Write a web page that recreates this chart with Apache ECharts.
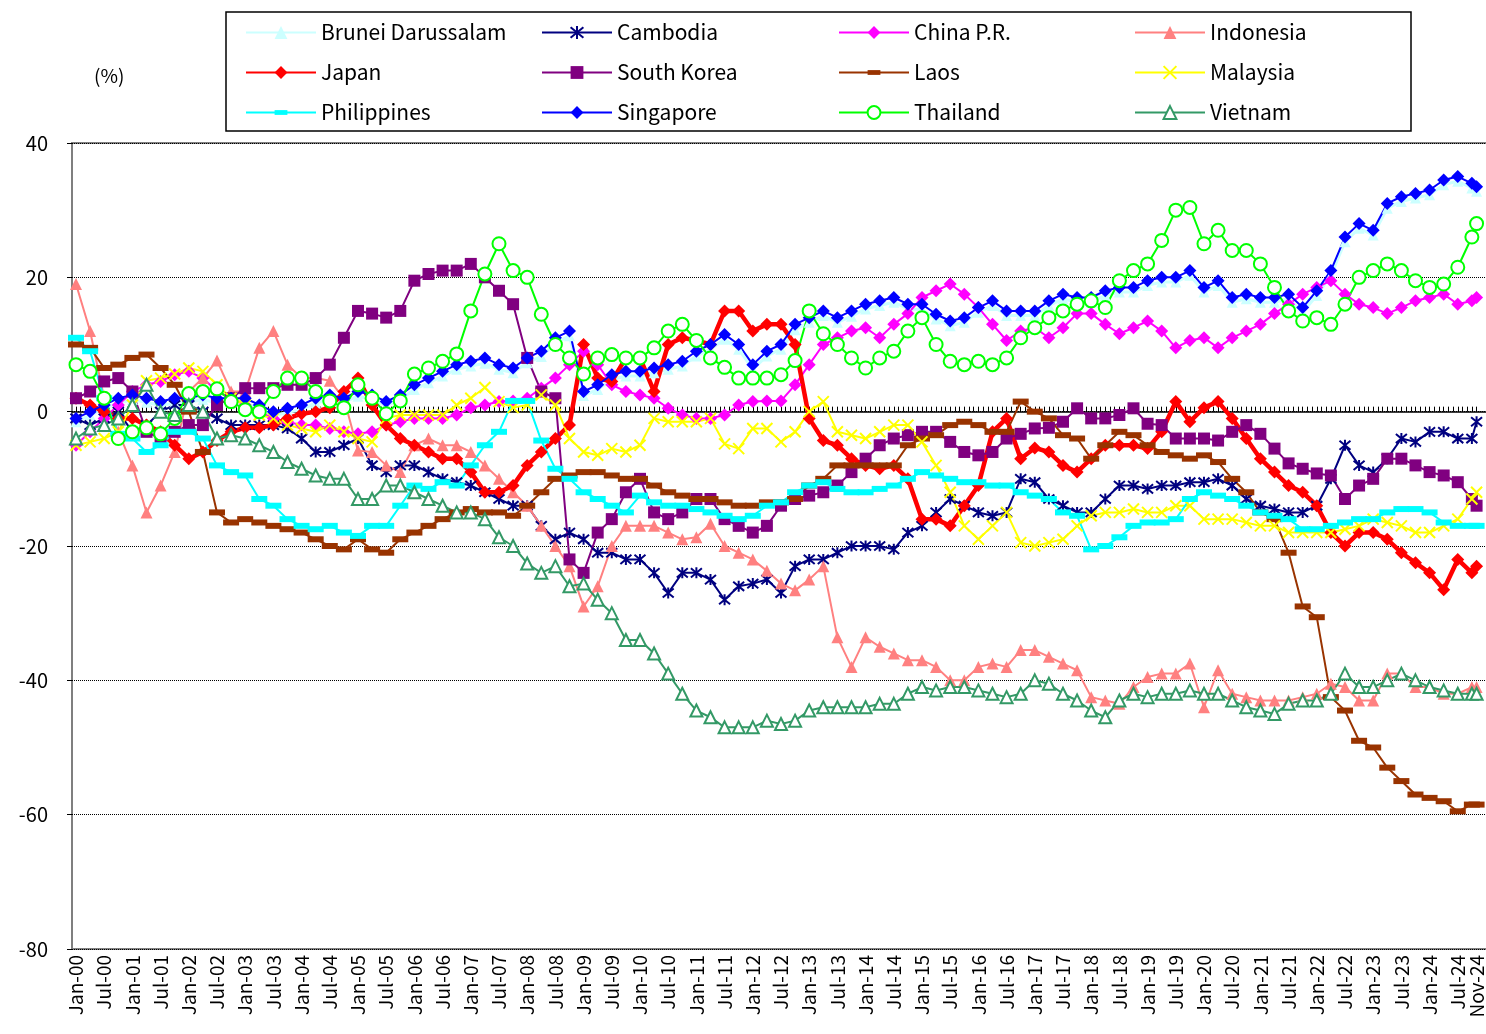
<!DOCTYPE html>
<html>
<head>
<meta charset="utf-8">
<title>Exchange rate change vs Jan-00</title>
<script src="https://cdn.jsdelivr.net/npm/echarts@6/dist/echarts.min.js"></script>
<style>
  html, body { margin: 0; padding: 0; background: #fff; }
  #main { width: 1486px; height: 1034px; }
</style>
</head>
<body>
<div id="main"></div>
<script>
// month labels Jan-00 ... Nov-24
var monthNames = ['Jan','Feb','Mar','Apr','May','Jun','Jul','Aug','Sep','Oct','Nov','Dec'];
var months = [];
for (var yy = 0; yy <= 24; yy++) {
    for (var mm = 0; mm < 12; mm++) {
        if (yy == 24 && mm > 10) break;
        months.push(monthNames[mm] + '-' + (yy < 10 ? '0' : '') + yy);
    }
}
// values are read every quarter (Jan, Apr, Jul, Oct) plus the last month Nov-24
var sampleMonths = [];
for (var q = 0; q < 298; q += 3) sampleMonths.push(q);
sampleMonths.push(298);

var labelMonths = [];
for (var l = 0; l < 298; l += 6) labelMonths.push(l);
var lastMonth = [298];

var tickMonths = [];
for (var t = 0; t < months.length; t++) tickMonths.push(t);

var names = ['Brunei Darussalam', 'Cambodia', 'China P.R.', 'Indonesia',
             'Japan', 'South Korea', 'Laos', 'Malaysia',
             'Philippines', 'Singapore', 'Thailand', 'Vietnam'];

var brunei = [
 -1.5, -0.5, 0.5, 1.3,   1.8, 1.4, 0.9, 1.3,   1.4, 1.8, 1.3, 1.4,   1.3, 0.4, -0.6, -0.1,
 0.3, 1.3, 1.8, 1.4,     2.3, 1.8, 0.9, 1.8,   3.3, 4.3, 5.3, 6.3,   6.8, 7.2, 6.3, 5.8,
 7.3, 8.2, 10.2, 11.3,   2.4, 3.3, 4.8, 5.3,   5.3, 5.8, 6.3, 6.8,   8.3, 9.3, 10.8, 9.3,
 6.3, 8.3, 9.3, 12.2,    13.3, 14.3, 13.3, 14.2, 15.3, 15.8, 16.3, 15.3, 15.2, 13.8, 12.8, 13.3,
 14.8, 15.8, 14.3, 14.3, 14.3, 15.8, 16.8, 16.3, 16.3, 17.3, 17.8, 17.8, 18.8, 19.3, 19.3, 20.3,
 17.8, 18.8, 16.3, 16.8, 16.3, 16.3, 16.8, 14.8, 17.3, 20.3, 25.3, 27.3, 26.3, 30.3, 31.3, 31.8,
 32.3, 33.8, 34.3, 33.3, 32.8];

var cambodia = [
 -1, -2, -1, 0,          -3, -2, 0, 1,         1, 0, -1, -2,         -2, -2, -2, -2.5,
 -4, -6, -6, -5,         -4, -8, -9, -8,       -8, -9, -10, -10.5,   -11, -12, -13, -14,
 -14, -17, -19, -18,     -19, -21, -21, -22,   -22, -24, -27, -24,   -24, -25, -28, -26,
 -25.6, -25, -27, -23,   -22, -22, -21, -20,   -20, -20, -20.5, -18, -17, -15, -13, -14,
 -15, -15.5, -15, -10,   -10.5, -13, -14, -15, -15, -13, -11, -11,   -11.5, -11, -11, -10.5,
 -10.5, -10, -11, -13,   -14, -14.5, -15, -15, -14, -10, -5, -8,     -9, -7, -4, -4.5,
 -3, -3, -4, -4, -1.5];

var china = [
 -5, -3, -1, 1,          3, 4, 4.5, 5.5,       6, 5, 3, 2,           1, 0, -1, -1.5,
 -2, -2, -2.5, -3,       -3.3, -3, -2, -1.5,   -1, -1, -1, -0.5,     0.6, 1, 1.5, 1.6,
 2, 3.5, 5, 7,           9, 7, 4, 3,           2.5, 2, 0.5, -0.5,    -1, -1, -0.5, 1,
 1.5, 1.6, 1.6, 4,       7, 10, 11, 12,        12.5, 11, 13, 14.6,   17, 18, 19, 17.5,
 15.5, 13, 10.6, 12,     12.5, 11, 12.5, 14.6, 14.6, 13, 11.6, 12.5, 13.5, 12, 9.5, 10.6,
 11, 9.5, 11, 12,        13, 14.6, 16, 17.5,   18.5, 19.5, 17.5, 16, 15.5, 14.6, 15.5, 16.5,
 17, 17.5, 16, 16.5, 17];

var indonesia = [
 19, 12, 2, -3,          -8, -15, -11, -6,     3, 5, 7.6, 3,         3, 9.5, 12, 7,
 5, 5, 4.6, 2,           -5.8, -6, -8, -9,     -5, -4, -5, -5,       -6, -8, -10, -12,
 -14, -17, -20, -23,     -29, -26, -20, -17,   -17, -17, -18, -19,   -18.7, -16.7, -20, -21,
 -22, -23.7, -25.6, -26.6, -25, -23, -33.6, -38, -33.6, -35, -36, -37, -37, -38, -40, -40,
 -38, -37.5, -38, -35.5, -35.5, -36.5, -37.5, -38.5, -42.5, -43, -43.5, -41, -39.5, -39, -39, -37.5,
 -44, -38.5, -42, -42.5, -43, -43, -43, -42.5, -42, -40.5, -41, -43,   -43, -39, -39, -41,
 -41, -42, -42, -41, -41];

var japan = [
 2, 1, 0, -1,            -1, -2, -3, -5,       -7, -6, -4.3, -3,     -2.4, -2.4, -2, -1,
 -0.3, 0, 0.6, 3,        5, 1, -2, -4,         -5, -6, -7, -7,       -9, -12, -12, -11,
 -8, -6, -4, -2,         10, 5, 4.5, 8,        8, 3, 10, 11,         10.6, 10, 15, 15,
 12, 13, 13, 10,         -1, -4.3, -5, -7,     -8, -8.5, -8, -10,    -16, -16, -17, -14,
 -11, -3, -1, -7,        -5.4, -6, -8, -9,     -7, -5, -5, -5,       -5.5, -3, 1.5, -1.5,
 0.6, 1.5, -1, -4,       -7, -9, -11, -12,     -14, -18, -20, -18,   -18, -19, -21, -22.5,
 -24, -26.5, -22, -24, -23];

var southKorea = [
 2, 3, 4.5, 5,           3, -3, -4, -3,        -2, -2, 1, 2,         3.5, 3.5, 3.5, 4,
 4, 5, 7, 11,            15, 14.6, 14, 15,     19.5, 20.5, 21, 21,   22, 20, 18, 16,
 8, 3, 2, -22,           -24, -18, -16, -12,   -10, -15, -16, -15,   -13, -13, -16, -17,
 -18, -17, -14, -13,     -12.5, -12, -11, -9,  -7, -5, -4, -3.5,     -3, -3, -4.5, -6,
 -6.5, -6, -4, -3.3,     -2.5, -2.4, -1.5, 0.5, -1, -1, -0.5, 0.5,   -1.8, -2, -4, -4,
 -4, -4.3, -3, -2,       -3.3, -5.5, -7.7, -8.5, -9.2, -9.5, -13, -11, -10, -7, -7, -8,
 -9, -9.5, -10.5, -13, -14];

var laos = [
 10, 9.5, 6.5, 7,        8, 8.5, 6.5, 4,       0, -6, -15, -16.5,    -16, -16.5, -17, -17.5,
 -18, -19, -20, -20.5,   -19, -20.5, -21, -19, -18, -17, -16, -15,   -14.5, -15, -15, -15.5,
 -14, -12, -10, -9.5,    -9, -9, -9.5, -10,    -10, -11, -12, -12.5, -13, -13, -13.5, -14,
 -14, -13.5, -13.5, -13, -11, -10, -8, -8,     -8, -8, -8, -5,       -4, -3.5, -2, -1.5,
 -2, -3, -3, 1.5,        0, -1, -3.5, -4,      -7, -5, -3, -3.5,     -5, -6, -6.5, -7,
 -6.5, -7.5, -10, -12,   -15, -16, -21, -29,   -30.6, -42.5, -44.5, -49, -50, -53, -55, -57,
 -57.5, -58, -59.5, -58.5, -58.5];

var malaysia = [
 -5, -4.5, -4, -3,       1, 4.6, 5, 5.6,       6.5, 6, 4, 2,         1, -0.5, -1, -2,
 -2.5, -3, -2, -3,       -4, -4.5, -1, -0.5,   -0.5, -0.5, -0.5, 1,  2, 3.6, 1.5, 0.6,
 1, 2.5, 1, -4,          -6, -6.5, -5.5, -6,   -5, -1, -1.5, -1.5,   -1.5, -1, -4.8, -5.5,
 -2.5, -2.5, -4.5, -3,   0, 1.5, -3, -3.5,     -4, -3, -2, -2,       -4.5, -8, -12, -17,
 -19, -17, -15, -19.5,   -20, -19.5, -19, -17, -15.5, -15, -15, -14.5, -15, -15, -14, -14,
 -16, -16, -16, -16.5,   -17, -17, -18, -18,   -18, -18, -17.5, -17, -16, -16.5, -17, -18,
 -18, -17, -16, -13, -12];

var philippines = [
 11, 9, 2, -3.3,         -4, -6, -5, -3,       -3, -4, -8, -9,       -9.5, -13, -14, -16,
 -17, -17.5, -17, -18,   -18.5, -17, -17, -14, -11, -11.5, -10.5, -11, -8, -5, -3, 1.6,
 1.6, -4.3, -8.5, -10,   -12, -13, -14, -15,   -12.5, -13.5, -14, -14, -14.5, -15, -15.5, -16,
 -15.5, -14, -13.5, -12, -11, -10.5, -11.5, -12, -12, -11.5, -11, -10, -9, -9.5, -10, -10.5,
 -10.5, -11, -11, -12,   -12.5, -13, -15, -15.5, -20.5, -20, -18.7, -17, -16.5, -16.5, -16, -13,
 -12, -12.5, -13, -14,   -15, -15.5, -16, -17.5, -17.5, -17, -16.5, -16, -16, -15, -14.5, -14.5,
 -15, -16.5, -17, -17, -17];

var singapore = [
 -1, 0, 1, 2,            2.5, 2, 1.5, 2,       2, 2.5, 2, 2,         2, 1, 0, 0.5,
 1, 2, 2.5, 2,           3, 2.5, 1.5, 2.5,     4, 5, 6, 7,           7.5, 8, 7, 6.5,
 8, 9, 11, 12,           3, 4, 5.5, 6,         6, 6.5, 7, 7.5,       9, 10, 11.5, 10,
 7, 9, 10, 13,           14, 15, 14, 15,       16, 16.5, 17, 16,     16, 14.5, 13.5, 14,
 15.5, 16.5, 15, 15,     15, 16.5, 17.5, 17,   17, 18, 18.5, 18.5,   19.5, 20, 20, 21,
 18.5, 19.5, 17, 17.5,   17, 17, 17.5, 15.5,   18, 21, 26, 28,       27, 31, 32, 32.5,
 33, 34.5, 35, 34, 33.5];

var thailand = [
 7, 6, 2, -4,            -3, -2.4, -3.3, -1,   2.7, 3, 3.4, 1.5,     0.3, 0, 3, 5,
 5, 3, 1.6, 0.6,         4, 2, -0.3, 1.6,      5.6, 6.5, 7.5, 8.6,   15, 20.5, 25, 21,
 20, 14.5, 10, 8,        5.6, 8, 8.5, 8,       8, 9.5, 12, 13,       10.6, 8, 6.6, 5,
 5, 5, 5.5, 7.6,         15, 11.6, 10, 8,      6.5, 8, 9, 12,        14, 10, 7.5, 7,
 7.5, 7, 8, 11,          12.5, 14, 15, 16,     16.5, 15.5, 19.5, 21, 22, 25.5, 30, 30.4,
 25, 27, 24, 24,         22, 18.5, 15, 13.5,   14, 13, 16, 20,       21, 22, 21, 19.5,
 18.5, 19, 21.5, 26, 28];

var vietnam = [
 -4, -2.5, -2, -1,       1, 4, 0, -0.5,        1, 0, -4, -3.5,       -4, -5, -6, -7.5,
 -8.5, -9.5, -10, -10,   -13, -13, -11, -11,   -12, -13, -14, -15,   -15, -16, -18.7, -20,
 -22.6, -24, -23, -26,   -25.6, -28, -30, -34, -34, -36, -39, -42,   -44.5, -45.5, -47, -47,
 -47, -46, -46.5, -46,   -44.5, -44, -44, -44, -44, -43.5, -43.5, -42, -41, -41.5, -41, -41,
 -41.5, -42, -42.5, -42, -40, -40.5, -42, -43, -44.5, -45.5, -43, -42, -42.5, -42, -42, -41.5,
 -42, -42, -43, -44,     -44.5, -45, -43.5, -43, -43, -42, -39, -41,  -41, -40, -39, -40,
 -41, -41.5, -42, -42, -42];

var FONT = '"Noto Sans CJK JP", "Liberation Sans", sans-serif';
var asterisk = 'path://M0,0L10,10M10,0L0,10M5,-1L5,11';
var cross = 'path://M0,0L10,10M10,0L0,10';
// a flat dash drawn inside a square box, so it stays flat in the legend too
var dash = 'path://M0,0L0,0M16,16L16,16M0,5L16,5L16,11L0,11Z';

function pairs(values) {
    return sampleMonths.map(function (m, i) { return [m, values[i]]; });
}

function line(name, values, color, symbol, size, opts) {
    opts = opts || {};
    return {
        name: name,
        type: 'line',
        xAxisIndex: 0,
        data: pairs(values),
        symbol: symbol,
        symbolSize: size,
        showAllSymbol: true,
        lineStyle: { color: color, width: opts.width || 2 },
        itemStyle: {
            color: color,
            borderColor: color,
            borderWidth: opts.border || 0
        },
        emphasis: { disabled: true }
    };
}

var series = [
    line(names[0], brunei, '#ccffff', 'triangle', 11, { width: 3 }),
    line(names[1], cambodia, '#000080', asterisk, 11, { border: 2 }),
    line(names[2], china, '#ff00ff', 'diamond', 13),
    line(names[3], indonesia, '#ff8080', 'triangle', 12),
    line(names[4], japan, '#ff0000', 'diamond', 13, { width: 4.5 }),
    line(names[5], southKorea, '#800080', 'rect', 12),
    line(names[6], laos, '#993300', dash, 16),
    line(names[7], malaysia, '#ffff00', cross, 11, { border: 2 }),
    line(names[8], philippines, '#00ffff', dash, 16),
    line(names[9], singapore, '#0000ff', 'diamond', 13),
    line(names[10], thailand, '#00ff00', 'emptyCircle', 13, { border: 2 }),
    line(names[11], vietnam, '#339966', 'emptyTriangle', 12, { border: 1.5 })
];

var colLeft = [245, 541, 838, 1134];
var legends = colLeft.map(function (x, c) {
    return {
        orient: 'vertical',
        left: x,
        top: 22,
        padding: 0,
        itemWidth: 70,
        itemHeight: 16,
        itemGap: 19,
        selectedMode: false,
        textStyle: { fontSize: 21, color: '#000', fontFamily: FONT },
        data: [names[c], names[c + 4], names[c + 8]]
    };
});

function labelAxis(values) {
    return {
        type: 'value',
        min: -0.85,
        max: 300.43,
        position: 'bottom',
        axisLine: { show: false, onZero: false },
        axisTick: { show: false },
        splitLine: { show: false },
        axisLabel: {
            customValues: values,
            formatter: function (v) { return months[Math.round(v)]; },
            hideOverlap: false,
            showMinLabel: true,
            showMaxLabel: true,
            rotate: 90,
            fontSize: 19,
            color: '#000',
            margin: 6,
            fontFamily: FONT
        }
    };
}

var chart = echarts.init(document.getElementById('main'));
chart.setOption({
    animation: false,
    backgroundColor: '#fff',
    textStyle: { fontFamily: FONT },
    legend: legends,
    graphic: [
        {
            type: 'rect',
            shape: { x: 226, y: 12, width: 1185, height: 119 },
            style: { fill: 'none', stroke: '#000', lineWidth: 1.5 },
            z: 100
        },
        {
            type: 'text',
            left: 94,
            top: 66,
            style: { text: '(%)', fontSize: 19, fill: '#000', fontFamily: FONT }
        }
    ],
    grid: {
        left: 72,
        top: 143,
        right: -2,
        bottom: 85,
        show: true,
        borderColor: '#7f7f7f',
        borderWidth: 2,
        outerBoundsMode: 'none'
    },
    xAxis: [
        labelAxis(labelMonths),
        {
            type: 'value',
            min: -0.85,
            max: 300.43,
            position: 'bottom',
            axisLine: { show: true, onZero: true, lineStyle: { color: '#000', width: 1.5 } },
            axisTick: { show: true, inside: true, length: 5, customValues: tickMonths, lineStyle: { color: '#000', width: 1 } },
            axisLabel: { show: false },
            splitLine: { show: false }
        },
        labelAxis(lastMonth)
    ],
    yAxis: {
        type: 'value',
        min: -80,
        max: 40,
        interval: 20,
        axisLine: { show: false, onZero: false },
        axisTick: { show: true, length: 5, lineStyle: { color: '#000' } },
        axisLabel: { fontSize: 20, color: '#000', margin: 24, fontFamily: FONT },
        splitLine: { show: true, lineStyle: { type: 'dotted', color: '#000', width: 1 } }
    },
    series: series
});
</script>
</body>
</html>
